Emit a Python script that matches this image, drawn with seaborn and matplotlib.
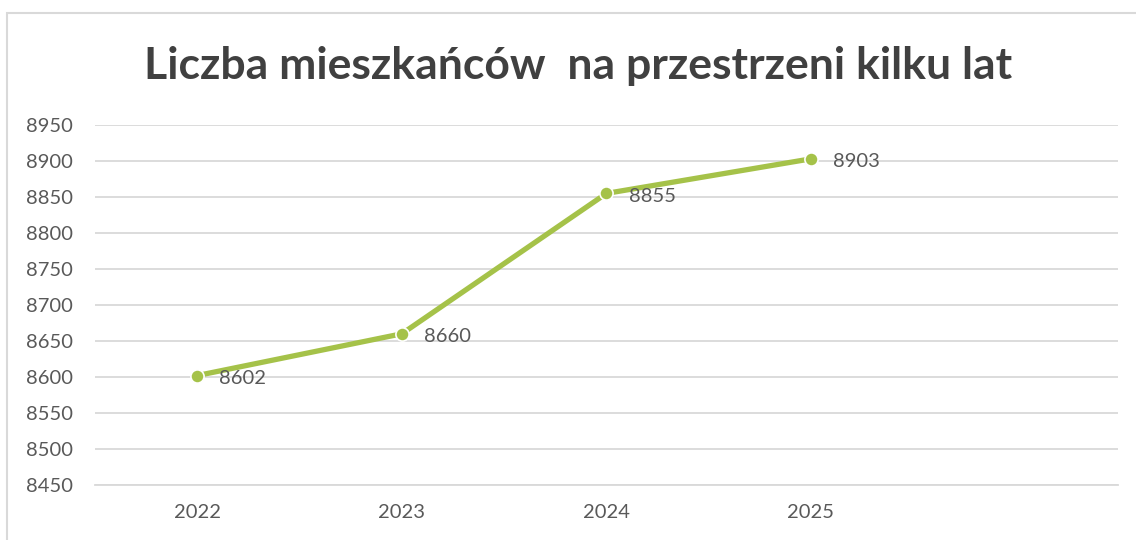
import numpy as np
import pandas as pd
from matplotlib import pyplot as plt
import seaborn as sns

# dane
years = ['2022', '2023', '2024', '2025']
residents = [8602, 8660, 8855, 8903]
title = 'Liczba mieszkańców  na przestrzeni kilku lat'

sns.set_style('white')
plt.rcParams['font.family'] = ['Lato', 'DejaVu Sans']

df = pd.DataFrame({'rok': years, 'liczba': residents})

fig = plt.figure(figsize=(11.36, 5.4), dpi=100)
ax = fig.add_axes([0.0836, 0.1019, 0.9004, 0.6666])

green = '#A5C249'
sns.lineplot(data=df, x='rok', y='liczba', ax=ax, color=green, linewidth=3.8,
             marker='o', markersize=9.5, markeredgecolor='white', markeredgewidth=1.2)

for i, v in enumerate(residents):
    ax.annotate(str(v), (i, v), xytext=(16, -2), textcoords='offset points',
                ha='left', va='center', fontsize=14.5, color='#595959')

ax.set_xlim(-0.5, 4.5)
ax.set_ylim(8450, 8950)
ax.set_yticks(np.arange(8450, 8951, 50))
ax.set_xticks(range(len(years)))
ax.set_xticklabels(years)
ax.tick_params(axis='both', length=0, labelsize=14.5, labelcolor='#595959')
ax.tick_params(axis='y', pad=16)
ax.tick_params(axis='x', pad=14)
ax.grid(axis='y', color='#D9D9D9', linewidth=1.3)
ax.set_axisbelow(True)
for s in ['top', 'right', 'left']:
    ax.spines[s].set_visible(False)
ax.spines['bottom'].set_color('#D9D9D9')
ax.spines['bottom'].set_linewidth(1.3)
ax.set_xlabel('')
ax.set_ylabel('')

fig.text(0.509, 0.878, title, ha='center', va='center', fontsize=32,
         fontweight='bold', color='#404040')

# ramka wykresu
frame = plt.Rectangle((7 / 1136, -0.1), 1.2, 1 - 13 / 540 + 0.1, transform=fig.transFigure,
                      fill=False, edgecolor='#D9D9D9', linewidth=1.5)
fig.add_artist(frame)

fig.savefig('out.png', dpi=100)
